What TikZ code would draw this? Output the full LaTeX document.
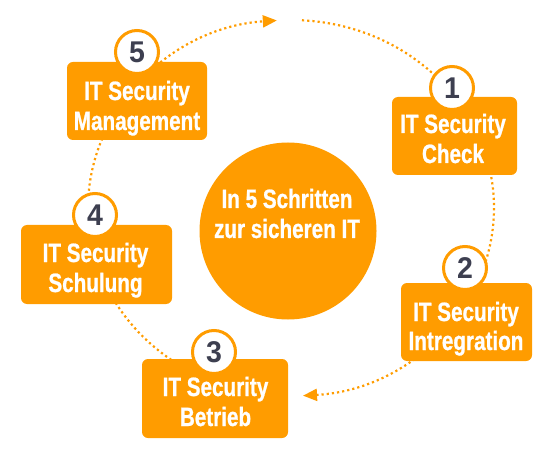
\documentclass[tikz,border=0pt]{standalone}
\usepackage{fontspec}
\setmainfont{Liberation Sans}
\newfontfamily\condfont[FakeStretch=0.78,FakeBold=0.8]{Liberation Sans}
\newfontfamily\digitfont[FakeStretch=0.95]{Liberation Sans}
\usetikzlibrary{arrows.meta,backgrounds,calc}
\definecolor{brand}{HTML}{FF9C00}
\definecolor{digit}{HTML}{3D3F50}
\begin{document}
\begin{tikzpicture}[x=1pt,y=1pt,
  stepbox/.style={fill=brand, draw=none, rounded corners=6pt, inner sep=0pt},
  numcircle/.style={circle, fill=white, draw=brand, line width=3pt, minimum size=43pt, inner sep=0pt, text=digit, font=\digitfont\bfseries\fontsize{30}{30}\selectfont},
  lbl/.style={anchor=base, text=white, inner sep=0pt, font=\condfont\bfseries\fontsize{26.5}{30}\selectfont},
  hub/.style={circle, fill=brand, draw=none, minimum size=177pt, inner sep=0pt},
  dotline/.style={brand, line width=2.2pt, dash pattern=on 2.2pt off 3pt},
  tip/.style={-{Triangle[length=14pt,width=12pt]}}]
\useasboundingbox (0,0) rectangle (556,450);

% centre
\node[hub] (hub) at (288,219) {};
\node[lbl] (hubA) at (287,242) {In 5 Schritten};
\node[lbl] (hubB) at (287,212) {zur sicheren IT};

% step 1
\node[stepbox, minimum width=125pt, minimum height=78pt] (b1) at (454.5,314) {};
\node[lbl] (b1a) at (453,317) {IT Security};
\node[lbl] (b1b) at (453,287) {Check};
\node[numcircle] (c1) at (452,362) {1};

% step 2
\node[stepbox, minimum width=131pt, minimum height=78pt] (b2) at (466.5,128) {};
\node[lbl] (b2a) at (466,129) {IT Security};
\node[lbl] (b2b) at (466,100) {Intregration};
\node[numcircle] (c2) at (465,182) {2};

% step 3
\node[stepbox, minimum width=146pt, minimum height=79pt] (b3) at (215,51.5) {};
\node[lbl] (b3a) at (215.5,54) {IT Security};
\node[lbl] (b3b) at (215.5,24) {Betrieb};
\node[numcircle] (c3) at (214,98) {3};

% step 4
\node[stepbox, minimum width=151pt, minimum height=79pt] (b4) at (96.5,185.5) {};
\node[lbl] (b4a) at (95.5,188) {IT Security};
\node[lbl] (b4b) at (95.5,158) {Schulung};
\node[numcircle] (c4) at (95,235) {4};

% step 5
\node[stepbox, minimum width=140pt, minimum height=78pt] (b5) at (137,349) {};
\node[lbl] (b5a) at (137,350) {IT Security};
\node[lbl] (b5b) at (137,320) {Management};
\node[numcircle] (c5) at (137,398) {5};

% dotted cycle behind everything
\begin{scope}[on background layer]
  \coordinate (ec) at (291,242);
  \coordinate (s1) at ([shift={(86.9:203pt and 188pt)}]ec);
  \coordinate (s2) at ([shift={(265:203pt and 188pt)}]ec);
  \draw[dotline, tip] (s1) arc[start angle=86.9, end angle=-86.6, x radius=203pt, y radius=188pt];
  \draw[dotline, tip] (s2) arc[start angle=265, end angle=94, x radius=203pt, y radius=188pt];
\end{scope}
\end{tikzpicture}
\end{document}
